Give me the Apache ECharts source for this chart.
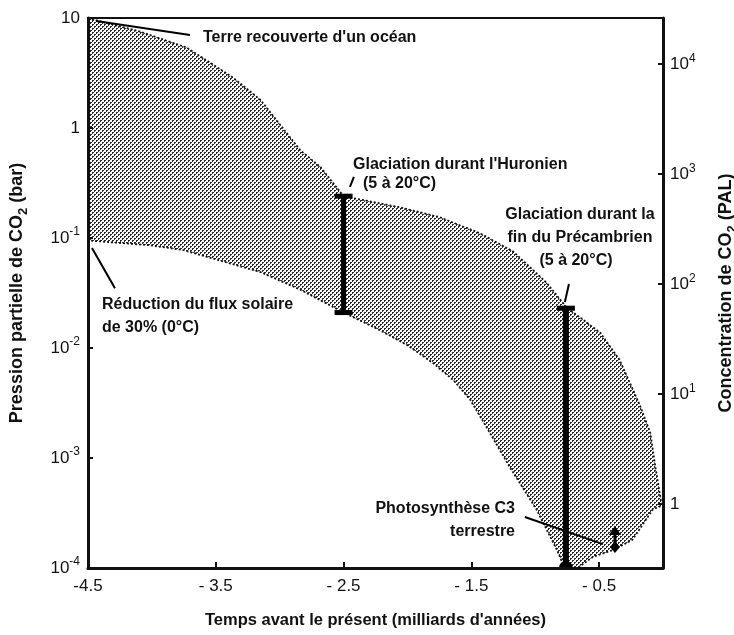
<!DOCTYPE html>
<html><head><meta charset="utf-8">
<script src="https://cdn.jsdelivr.net/npm/echarts@6/dist/echarts.min.js"></script>
<style>html,body{margin:0;padding:0;background:#fff}#c{width:734px;height:635px}</style>
</head><body><div id="c"></div>
<script>
// ---- data (time in billions of years, CO2 partial pressure in bar) ----
const upperX = [-4.5, -4.09, -3.73, -3.37, -3.15, -2.84, -2.68, -2.5, -2.06, -1.75, -1.43, -1.17, -0.91, -0.75, -0.65, -0.49, -0.34, -0.18, -0.10, -0.06, -0.01];
const upperY = [10, 7.5, 5.4, 2.9, 1.8, 0.63, 0.44, 0.24, 0.19, 0.155, 0.11, 0.075, 0.039, 0.023, 0.019, 0.0137, 0.0078, 0.003, 0.0017, 0.00083, 0.00037];
const rightEdgeX = [-0.08, -0.24, -0.39, -0.55, -0.67];
const rightEdgeY = [0.00034, 0.00018, 0.000146, 0.000126, 0.0001];
const lowerX = [-0.77, -0.83, -0.99, -1.2, -1.38, -1.51, -1.64, -1.8, -2.0, -2.22, -2.5, -2.84, -3.15, -3.76, -4.02, -4.5];
const lowerY = [0.0001, 0.000146, 0.00034, 0.00083, 0.0019, 0.0034, 0.0051, 0.0073, 0.0106, 0.0146, 0.021, 0.034, 0.049, 0.078, 0.086, 0.095];

const glaciationX = [-2.5, -0.76];
const glaciationLow = [0.021, 0.0001];
const glaciationHigh = [0.24, 0.023];

const arrowX = [-0.376];
const arrowFrom = [0.000155];
const arrowTo = [0.000241];

// leader lines: [x1, y1, x2, y2]
const leaders = [
  [-4.437, 9.4, -3.702, 7.0],
  [-4.469, 0.081, -4.289, 0.035],
  [-2.45, 0.291, -2.419, 0.359],
  [-0.768, 0.0262, -0.736, 0.0382],
  [-1.081, 0.000291, -0.47, 0.000165]
];

const xTickValues = [-4.5, -3.5, -2.5, -1.5, -0.5];
const xTickLabels = ['-4.5', '- 3.5', '- 2.5', '- 1.5', '- 0.5'];
const yTickValues = [1e-4, 1e-3, 1e-2, 1e-1, 1, 10];
const yTickLabels = ['10{p|-4}', '10{p|-3}', '10{p|-2}', '10{p|-1}', '1', '10'];
const palTickValues = [1, 10, 100, 1000, 10000];
const palTickLabels = ['1', '10{p|1}', '10{p|2}', '10{p|3}', '10{p|4}'];
const BAR_PER_PAL = 3.8e-4;

// ---- build ----
const regionPoints = [];
upperX.forEach((x, i) => regionPoints.push([x, upperY[i]]));
rightEdgeX.forEach((x, i) => regionPoints.push([x, rightEdgeY[i]]));
lowerX.forEach((x, i) => regionPoints.push([x, lowerY[i]]));

const pc = document.createElement('canvas');
pc.width = 4; pc.height = 4;
const pctx = pc.getContext('2d');
pctx.fillStyle = '#fff'; pctx.fillRect(0, 0, 4, 4);
pctx.fillStyle = '#2a2a2a';
pctx.fillRect(0, 0, 2, 1); pctx.fillRect(0, 1, 1, 1);
pctx.fillRect(2, 2, 2, 1); pctx.fillRect(2, 3, 1, 1);
const pattern = { image: pc, repeat: 'repeat' };

const FONT = '"Liberation Sans", Arial, sans-serif';

function lookup(values, labels, v) {
  const i = values.findIndex(t => Math.abs(Math.log10(t) - Math.log10(v)) < 1e-6);
  return i >= 0 ? labels[i] : '';
}

const chart = echarts.init(document.getElementById('c'), null, { renderer: 'canvas' });

const supRich = {
  p: { fontSize: 12, lineHeight: 12, verticalAlign: 'top', fontFamily: FONT, color: '#111' }
};
const subRich = {
  s: { fontSize: 13, lineHeight: 13, verticalAlign: 'bottom', fontFamily: FONT, fontWeight: 'bold', color: '#111' }
};

const txt = (x, y, text, align) => ({
  type: 'text', x: x, y: y, z: 100,
  style: { text: text, font: 'bold 16px ' + FONT, fill: '#111', align: align || 'left', verticalAlign: 'middle', textAlign: align || 'left', textVerticalAlign: 'middle' }
});

chart.setOption({
  animation: false,
  backgroundColor: '#fff',
  grid: { left: 88, right: 71, top: 18, bottom: 67, outerBoundsMode: 'none', containLabel: false, show: true, borderColor: '#111', borderWidth: 2, backgroundColor: 'transparent' },
  xAxis: {
    type: 'value', min: -4.5, max: 0, z: 10,
    name: "Temps avant le présent (milliards d'années)", nameLocation: 'middle', nameGap: 44,
    nameTextStyle: { fontSize: 16.5, fontWeight: 'bold', fontFamily: FONT, color: '#111' },
    axisLine: { onZero: false, lineStyle: { color: '#111', width: 3 } },
    axisTick: { inside: true, length: 6, lineStyle: { color: '#111', width: 2 }, customValues: xTickValues },
    axisLabel: { customValues: xTickValues, margin: 10, fontSize: 17, fontFamily: FONT, color: '#111',
      formatter: v => { const i = xTickValues.findIndex(t => Math.abs(t - v) < 1e-9); return i >= 0 ? xTickLabels[i] : ''; } },
    splitLine: { show: false }
  },
  yAxis: [{
    type: 'log', logBase: 10, min: 1e-4, max: 10, z: 10, position: 'left',
    name: 'Pression partielle de CO{s|2} (bar)', nameLocation: 'middle', nameGap: 58, nameRotate: 90,
    nameTextStyle: { fontSize: 18, fontWeight: 'bold', fontFamily: FONT, color: '#111', lineHeight: 26, rich: subRich },
    axisLine: { onZero: false, lineStyle: { color: '#111', width: 3 } },
    axisTick: { inside: true, length: 5, lineStyle: { color: '#111', width: 2 }, customValues: yTickValues },
    axisLabel: { customValues: yTickValues, margin: 8, fontSize: 17, lineHeight: 24, fontFamily: FONT, color: '#111', rich: supRich,
      formatter: v => lookup(yTickValues, yTickLabels, v) },
    splitLine: { show: false }
  }, {
    type: 'log', logBase: 10, min: 1e-4 / BAR_PER_PAL, max: 10 / BAR_PER_PAL, position: 'right', z: 10,
    name: 'Concentration de CO{s|2} (PAL)', nameLocation: 'middle', nameGap: 50, nameRotate: 90,
    nameTextStyle: { fontSize: 18, fontWeight: 'bold', fontFamily: FONT, color: '#111', lineHeight: 26, rich: subRich },
    axisLine: { onZero: false, lineStyle: { color: '#111', width: 3 } },
    axisTick: { inside: true, length: 5, lineStyle: { color: '#111', width: 2 }, customValues: palTickValues },
    minorTick: { show: false },
    axisLabel: { customValues: palTickValues, margin: 7, fontSize: 17, lineHeight: 24, fontFamily: FONT, color: '#111', rich: supRich,
      formatter: v => lookup(palTickValues, palTickLabels, v) },
    splitLine: { show: false }
  }],
  series: [{
    type: 'custom', name: 'region', yAxisIndex: 0, z: 2,
    data: regionPoints,
    encode: { x: 0, y: 1 },
    renderItem: (params, api) => {
      if (params.dataIndex !== 0) return null;
      const pts = regionPoints.map(p => api.coord(p));
      return { type: 'polygon', shape: { points: pts },
        style: { fill: pattern, stroke: '#111', lineWidth: 1.8, lineDash: [2, 2] } };
    }
  }, {
    type: 'custom', name: 'glaciations', yAxisIndex: 0, z: 5, clip: true,
    data: glaciationX.map((x, i) => [x, glaciationLow[i], glaciationHigh[i]]),
    encode: { x: 0, y: [1, 2] },
    renderItem: (params, api) => {
      const x = api.value(0);
      const lo = api.coord([x, api.value(1)]);
      const hi = api.coord([x, api.value(2)]);
      const atBottom = api.value(1) <= 1e-4 * 1.0001;
      const children = [
        { type: 'line', shape: { x1: lo[0], y1: lo[1], x2: hi[0], y2: hi[1] }, style: { stroke: '#000', lineWidth: atBottom ? 6 : 5 } },
        { type: 'rect', shape: { x: hi[0] - 9, y: hi[1] - 2.5, width: 18, height: 5 }, style: { fill: '#000' } }
      ];
      if (atBottom) {
        children.push({ type: 'circle', shape: { cx: lo[0], cy: lo[1], r: 7 }, style: { fill: '#000' } });
      } else {
        children.push({ type: 'rect', shape: { x: lo[0] - 9, y: lo[1] - 2.5, width: 18, height: 5 }, style: { fill: '#000' } });
      }
      return { type: 'group', children: children };
    }
  }, {
    type: 'custom', name: 'leaders', yAxisIndex: 0, z: 6,
    data: leaders,
    encode: { x: [0, 2], y: [1, 3] },
    renderItem: (params, api) => {
      const a = api.coord([api.value(0), api.value(1)]);
      const b = api.coord([api.value(2), api.value(3)]);
      return { type: 'line', shape: { x1: a[0], y1: a[1], x2: b[0], y2: b[1] }, style: { stroke: '#000', lineWidth: 2 } };
    }
  }, {
    type: 'custom', name: 'C3 arrow', yAxisIndex: 0, z: 6,
    data: arrowX.map((x, i) => [x, arrowFrom[i], arrowTo[i]]),
    encode: { x: 0, y: [1, 2] },
    renderItem: (params, api) => {
      const x = api.value(0);
      const a = api.coord([x, api.value(1)]);
      const b = api.coord([x, api.value(2)]);
      return { type: 'group', children: [
        { type: 'line', shape: { x1: a[0], y1: a[1], x2: b[0], y2: b[1] + 6 }, style: { stroke: '#000', lineWidth: 3 } },
        { type: 'polygon', shape: { points: [[b[0], b[1]], [b[0] - 6, b[1] + 9], [b[0] + 6, b[1] + 9]] }, style: { fill: '#000' } },
        { type: 'polygon', shape: { points: [[a[0], a[1] - 6], [a[0] + 5, a[1]], [a[0], a[1] + 6], [a[0] - 5, a[1]]] }, style: { fill: '#000' } }
      ] };
    }
  }],
  graphic: [
    txt(203, 38, "Terre recouverte d'un océan"),
    txt(102, 305, 'Réduction du flux solaire'),
    txt(102, 328, 'de 30% (0°C)'),
    txt(353, 165, "Glaciation durant l'Huronien"),
    txt(363, 184, '(5 à 20°C)'),
    txt(580, 215, 'Glaciation durant la', 'center'),
    txt(580, 238, 'fin du Précambrien', 'center'),
    txt(576, 261, '(5 à 20°C)', 'center'),
    txt(515, 509, 'Photosynthèse C3', 'right'),
    txt(515, 532, 'terrestre', 'right')
  ]
});
</script>
</body></html>
